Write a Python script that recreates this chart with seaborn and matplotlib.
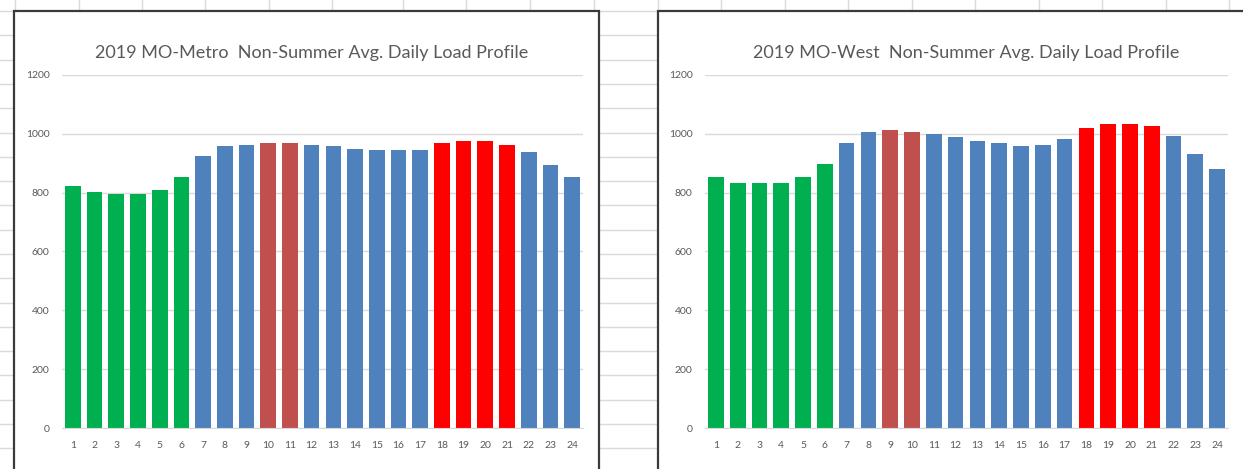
import numpy as np
import pandas as pd
import matplotlib.pyplot as plt
import seaborn as sns
from matplotlib.lines import Line2D
from matplotlib.patches import Rectangle

hours = list(range(1, 25))

metro_load = [821, 801, 795, 795, 808, 853, 925, 957, 962, 969, 969, 962,
              957, 950, 944, 944, 944, 969, 975, 975, 962, 937, 893, 853]
west_load = [853, 834, 834, 834, 853, 898, 969, 1007, 1014, 1007, 1001, 989,
             976, 969, 957, 962, 982, 1021, 1033, 1033, 1026, 994, 930, 879]

# period of each hour: off = green, shoulder = blue, morning peak = dark red, evening peak = red
metro_period = ['off'] * 6 + ['mid'] * 3 + ['am'] * 2 + ['mid'] * 6 + ['pm'] * 4 + ['mid'] * 3
west_period = ['off'] * 6 + ['mid'] * 2 + ['am'] * 2 + ['mid'] * 7 + ['pm'] * 4 + ['mid'] * 3

period_colors = {'off': '#00B050', 'mid': '#4F81BD', 'am': '#C0504D', 'pm': '#FF0000'}

titles = ['2019 MO-Metro  Non-Summer Avg. Daily Load Profile',
          '2019 MO-West  Non-Summer Avg. Daily Load Profile']
yticks = [0, 200, 400, 600, 800, 1000, 1200]

sns.set_style('white')
plt.rcParams['font.family'] = ['Lato', 'DejaVu Sans']

W, H = 1243, 469
fig = plt.figure(figsize=(W / 100, H / 100), dpi=100)

# spreadsheet grid behind the charts
grid_c = '#dadada'
for y in np.arange(11, H, 24.3):
    fig.add_artist(Line2D([0, 1], [1 - y / H, 1 - y / H], color=grid_c, lw=1, zorder=0))
for x in [15, 79, 142, 205, 269, 332, 403, 466, 530, 594, 658, 721, 785, 848,
          912, 975, 1039, 1102, 1166, 1229]:
    fig.add_artist(Line2D([x / W, x / W], [1 - 11 / H, 1], color=grid_c, lw=1, zorder=0))

# chart frames
for x0, x1 in [(14, 599), (658, 1250)]:
    fig.add_artist(Rectangle((x0 / W, -0.02), (x1 - x0) / W, 1 - 11 / H + 0.02,
                             facecolor='white', edgecolor='#3a3a3a', lw=1.6, zorder=1))

axes_px = [(62, 583), (705, 1228)]
title_x = [0.48, 0.5]
datasets = [(metro_load, metro_period), (west_load, west_period)]

for (x0, x1), (load, period), title, tx in zip(axes_px, datasets, titles, title_x):
    ax = fig.add_axes([x0 / W, 1 - 428 / H, (x1 - x0) / W, (428 - 75) / H], zorder=2)
    ax.patch.set_alpha(0)
    df = pd.DataFrame({'hour': [str(h) for h in hours], 'load': load})
    colors = [period_colors[p] for p in period]
    sns.barplot(data=df, x='hour', y='load', hue='hour', palette=colors,
                legend=False, width=0.72, linewidth=0, saturation=1, ax=ax)
    ax.set_ylim(0, 1200)
    ax.set_xlim(-0.5, 23.5)
    ax.set_yticks(yticks)
    ax.yaxis.grid(True, color='#d9d9d9', lw=1)
    ax.set_axisbelow(True)
    for s in ['top', 'right', 'left']:
        ax.spines[s].set_visible(False)
    ax.spines['bottom'].set_color('#d9d9d9')
    ax.tick_params(axis='both', length=0, labelsize=7.5, labelcolor='#595959')
    ax.tick_params(axis='x', pad=9)
    ax.tick_params(axis='y', pad=9)
    ax.set_xlabel('')
    ax.set_ylabel('')
    ax.set_title(title, fontsize=13, color='#595959', pad=12, x=tx)

fig.savefig('out.png', dpi=100)
